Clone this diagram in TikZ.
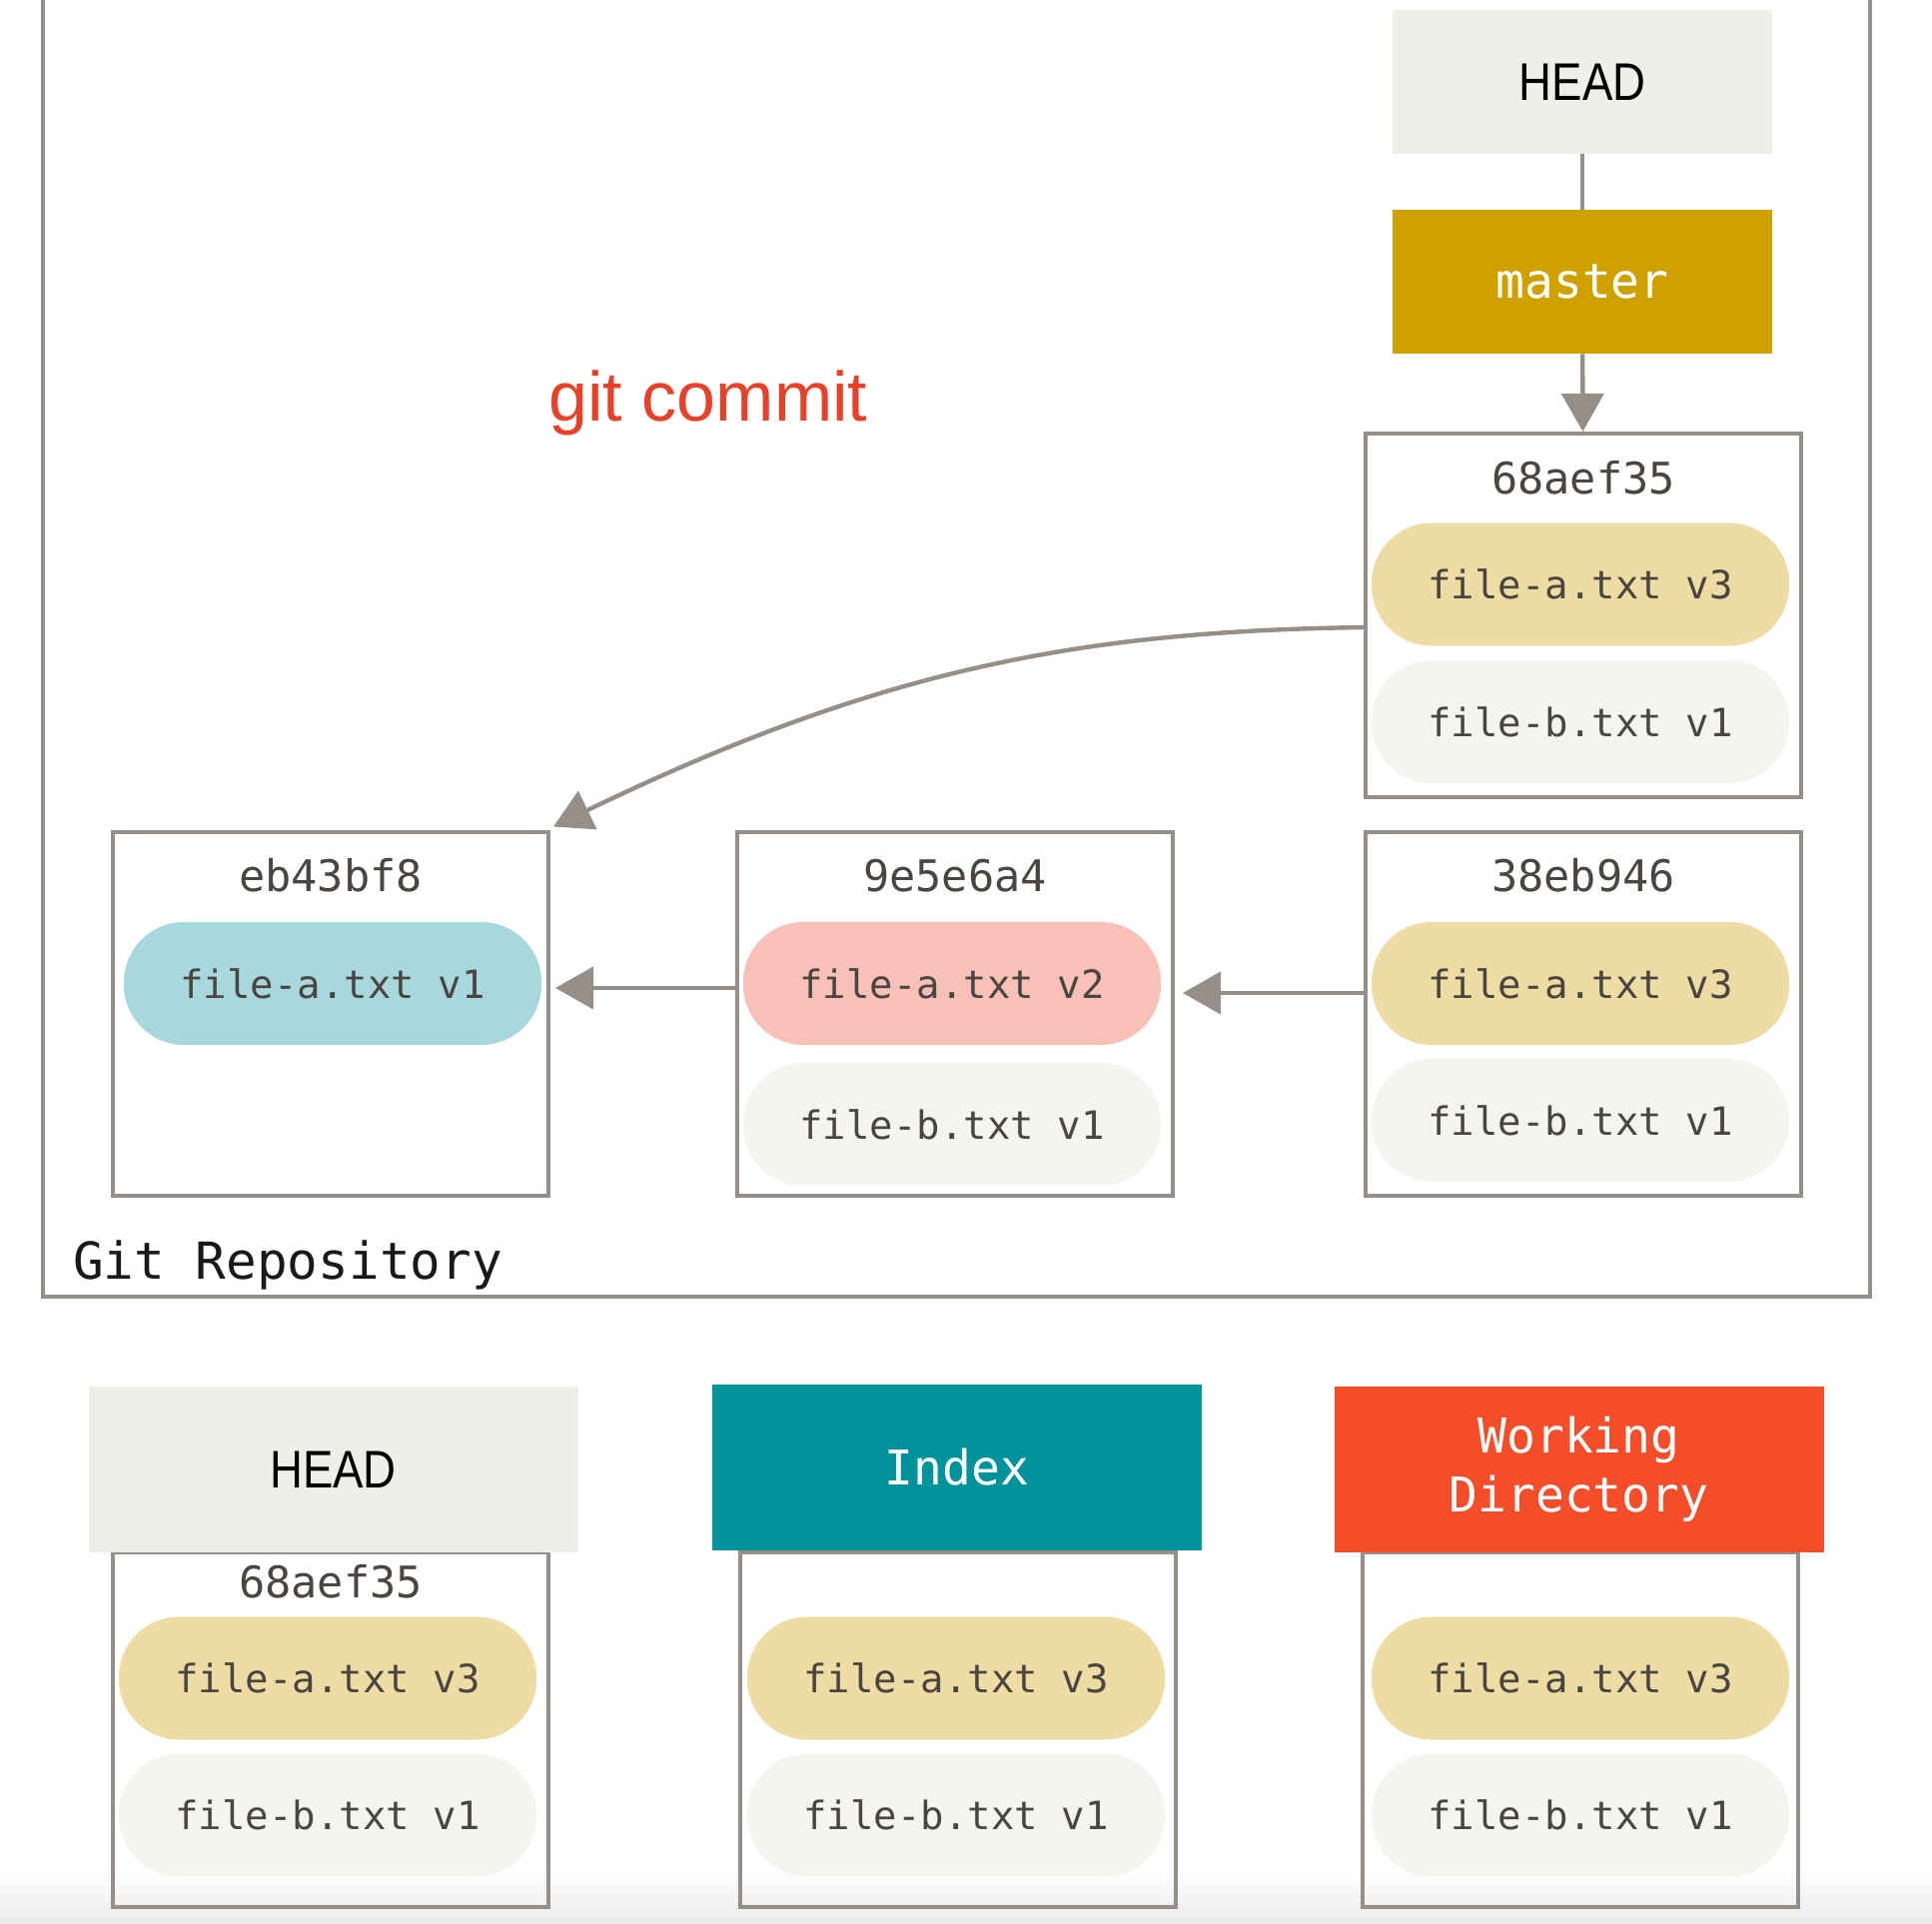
\documentclass[tikz,border=0pt]{standalone}
\usepackage{fontspec}
\setmonofont{DejaVu Sans Mono}
\setsansfont{Liberation Sans}
\newfontfamily\headfont[FakeStretch=0.86]{Liberation Sans}
\usetikzlibrary{positioning, arrows.meta}

\definecolor{linegray}{RGB}{149,143,136}
\definecolor{textgray}{RGB}{74,69,64}
\definecolor{headfill}{RGB}{239,238,232}
\definecolor{masterfill}{RGB}{206,160,0}
\definecolor{indexfill}{RGB}{0,147,155}
\definecolor{wdfill}{RGB}{243,78,41}
\definecolor{v1fill}{RGB}{168,216,220}
\definecolor{v2fill}{RGB}{248,193,184}
\definecolor{v3fill}{RGB}{237,220,164}
\definecolor{bfill}{RGB}{245,245,240}
\definecolor{cmdred}{RGB}{232,65,42}

\begin{document}
\begin{tikzpicture}[
    x=0.5pt, y=-0.5pt,
    frame/.style={draw=linegray, line width=2pt},
    commitbox/.style={frame, minimum width=218pt, minimum height=182pt, inner sep=0pt},
    stagebox/.style={frame, minimum width=218pt, minimum height=177.5pt, inner sep=0pt},
    pill/.style={rounded corners=30pt, minimum width=209pt, minimum height=61.5pt, inner sep=0pt,
        font=\ttfamily\fontsize{19.5}{22}\selectfont, text=textgray},
    hash/.style={font=\ttfamily\fontsize{21.8}{24}\selectfont, text=textgray},
    refbox/.style={minimum width=190pt, minimum height=72pt, inner sep=0pt},
    areabox/.style={minimum width=245pt, minimum height=83pt, inner sep=0pt, align=center,
        font=\ttfamily\fontsize{24}{29.5}\selectfont, text=white},
    headtext/.style={font=\headfont\fontsize{26.5}{30}\selectfont, text=black},
    link/.style={draw=linegray, line width=2.2pt, -{Triangle[length=19pt, width=21pt]}}
]
    \useasboundingbox (0,0) rectangle (1934,1926);
    \fill[top color=white, bottom color=black!8] (0,1870) rectangle (1934,1926);

    % Repository frame
    \draw[frame] (43,-20) rectangle (1872,1298);
    \node[anchor=base west, font=\ttfamily\fontsize{25.5}{30}\selectfont, text=black!90] (repo) at (66,1280) {Git Repository};
    \node[font=\sffamily\fontsize{35}{40}\selectfont, text=cmdred] (cmd) at (709,403) {git commit};

    % HEAD and branch
    \node[refbox, fill=headfill, headtext] (head) at (1584,82) {HEAD};
    \node[refbox, fill=masterfill, font=\ttfamily\fontsize{24}{28}\selectfont, text=white] (master) at (1584,282) {master};

    % Commits
    \foreach \id/\x/\y/\hash in {c68/1585/616/68aef35, eb4/331/1014.5/eb43bf8, 9e5/956/1014.5/9e5e6a4, 38e/1585/1014.5/38eb946} {
        \node[commitbox] (\id) at (\x,\y) {};
        \node[hash] (\id-hash) at ([yshift=-23pt]\id.north) {\hash};
    }

    % Bottom areas: HEAD, Index, Working Directory
    \foreach \id/\x in {hd/331, ix/959, wd/1581.5} {
        \node[stagebox] (\id-box) at (\x,1731.5) {};
    }
    \node[areabox, fill=headfill, headtext] (hd) at (333.5,1471) {HEAD};
    \node[areabox, fill=indexfill] (ix) at (958,1469) {Index};
    \node[areabox, fill=wdfill] (wd) at (1580.5,1471) {Working\\Directory};
    \node[hash] (hd-hash) at ([yshift=-15.5pt]hd-box.north) {68aef35};

    % File blobs
    \foreach \id/\x/\y/\col/\txt in {
        c68-a/1582/585/v3fill/file-a.txt v3,
        c68-b/1582/722.5/bfill/file-b.txt v1,
        eb4-a/333/984.5/v1fill/file-a.txt v1,
        9e5-a/953/984.5/v2fill/file-a.txt v2,
        9e5-b/953/1125.5/bfill/file-b.txt v1,
        38e-a/1582/984.5/v3fill/file-a.txt v3,
        38e-b/1582/1121.5/bfill/file-b.txt v1,
        hd-a/328/1680/v3fill/file-a.txt v3,
        hd-b/328/1817/bfill/file-b.txt v1,
        ix-a/957/1680/v3fill/file-a.txt v3,
        ix-b/957/1817/bfill/file-b.txt v1,
        wd-a/1582/1680/v3fill/file-a.txt v3,
        wd-b/1582/1817/bfill/file-b.txt v1} {
        \node[pill, fill=\col] (\id) at (\x,\y) {\txt};
    }

    % Connectors
    \draw[frame] (head) -- (master);
    \draw[link] (master) -- (c68);
    \draw[link] ([yshift=12.75pt]9e5.west) -- ([yshift=12.75pt, xshift=2.5pt]eb4.east);
    \draw[link] ([yshift=10.25pt]38e.west) -- ([yshift=10.25pt, xshift=4pt]9e5.east);
    \draw[link] ([yshift=-6pt]c68.west) .. controls (1080,632) and (880,670) .. ([xshift=1.5pt, yshift=1.5pt]eb4.north east);
\end{tikzpicture}
\end{document}
